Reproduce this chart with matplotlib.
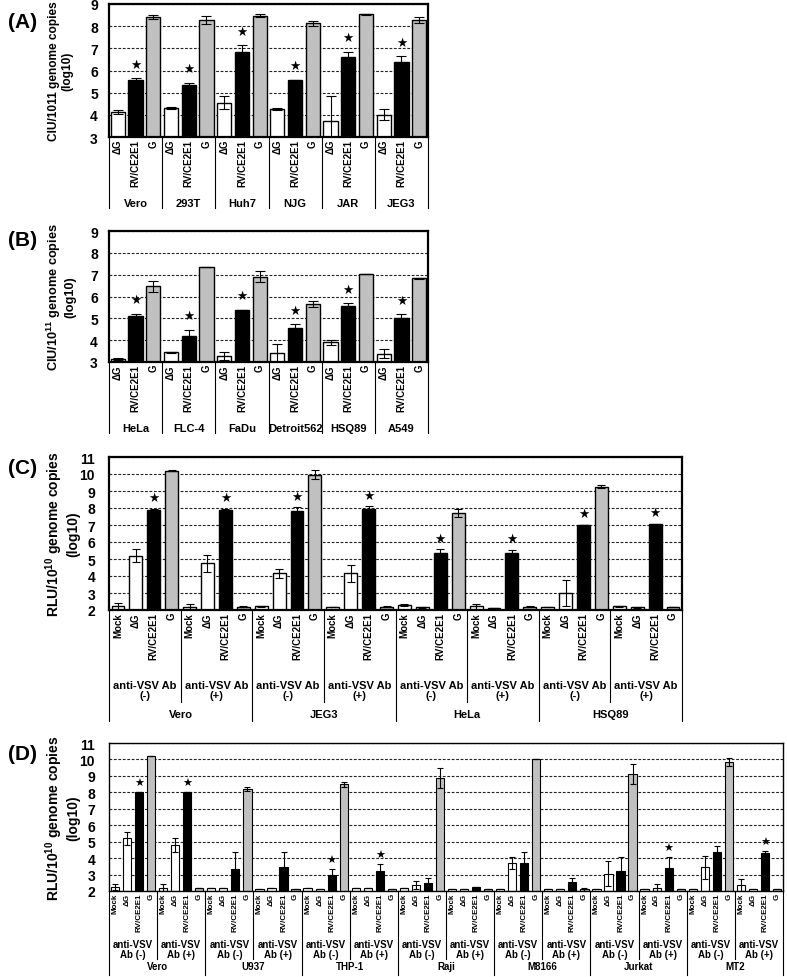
import matplotlib
matplotlib.use("Agg")
import matplotlib.pyplot as plt
import numpy as np
from matplotlib.transforms import blended_transform_factory

plt.rcParams['font.family'] = ['Liberation Sans', 'DejaVu Sans']
plt.rcParams['mathtext.fontset'] = 'custom'
plt.rcParams['mathtext.rm'] = 'Liberation Sans'
plt.rcParams['mathtext.bf'] = 'Liberation Sans:bold'

# ---------------- data ----------------
# Panel A
A_cells = ["Vero", "293T", "Huh7", "NJG", "JAR", "JEG3"]
A_types = ["ΔG", "RV/CE2E1", "G"]
A_dG = [4.12, 4.30, 4.55, 4.27, 3.72, 4.00]
A_dG_err = [0.10, 0.04, 0.30, 0.03, 1.13, 0.25]
A_RV = [5.55, 5.34, 6.84, 5.55, 6.60, 6.40]
A_RV_err = [0.10, 0.10, 0.30, 0.03, 0.25, 0.24]
A_G = [8.42, 8.28, 8.48, 8.13, 8.54, 8.29]
A_G_err = [0.10, 0.20, 0.08, 0.10, 0.03, 0.13]
A_star = [1, 1, 1, 1, 1, 1]

# Panel B
B_cells = ["HeLa", "FLC-4", "FaDu", "Detroit562", "HSQ89", "A549"]
B_dG = [3.15, 3.45, 3.27, 3.40, 3.90, 3.38]
B_dG_err = [0.05, 0.03, 0.20, 0.42, 0.10, 0.20]
B_RV = [5.12, 4.18, 5.36, 4.57, 5.55, 5.00]
B_RV_err = [0.10, 0.30, 0.03, 0.15, 0.15, 0.20]
B_G = [6.46, 7.35, 6.90, 5.65, 7.04, 6.83]
B_G_err = [0.25, 0.02, 0.25, 0.15, 0.01, 0.03]
B_star = [1, 1, 1, 1, 1, 1]

# Panel C (groups: cell x antibody)
C_cells = ["Vero", "JEG3", "HeLa", "HSQ89"]
C_ab = ["anti-VSV Ab\n(-)", "anti-VSV Ab\n(+)"]
C_types = ["Mock", "ΔG", "RV/CE2E1", "G"]
C_mock = [2.24, 2.15, 2.22, 2.20, 2.30, 2.22, 2.18, 2.22]
C_mock_err = [0.20, 0.20, 0.03, 0.00, 0.05, 0.15, 0.02, 0.03]
C_dG = [5.20, 4.75, 4.15, 4.15, 2.15, 2.12, 3.00, 2.15]
C_dG_err = [0.40, 0.50, 0.25, 0.50, 0.02, 0.02, 0.78, 0.02]
C_RV = [7.90, 7.90, 7.80, 7.95, 5.38, 5.33, 7.00, 7.04]
C_RV_err = [0.05, 0.05, 0.25, 0.15, 0.18, 0.22, 0.02, 0.03]
C_G = [10.20, 2.20, 9.97, 2.20, 7.70, 2.20, 9.25, 2.18]
C_G_err = [0.02, 0.03, 0.25, 0.02, 0.25, 0.02, 0.08, 0.02]
C_star = [1, 1, 1, 1, 1, 1, 1, 1]

# Panel D
D_cells = ["Vero", "U937", "THP-1", "Raji", "M8166", "Jurkat", "MT2"]
D_ab = ["anti-VSV\nAb (-)", "anti-VSV\nAb (+)"]
D_types = ["Mock", "ΔG", "RV/CE2E1", "G"]
D_mock = [2.25, 2.20, 2.20, 2.15, 2.20, 2.20, 2.20, 2.15, 2.15, 2.15, 2.15, 2.10, 2.15, 2.35]
D_mock_err = [0.20, 0.20, 0, 0, 0, 0, 0, 0, 0, 0, 0, 0, 0, 0.35]
D_dG = [5.20, 4.80, 2.20, 2.20, 2.15, 2.20, 2.35, 2.15, 3.70, 2.15, 3.05, 2.20, 3.45, 2.12]
D_dG_err = [0.40, 0.45, 0, 0, 0, 0, 0.25, 0, 0.35, 0, 0.75, 0.20, 0.70, 0]
D_RV = [8.00, 8.00, 3.35, 3.45, 3.00, 3.20, 2.47, 2.25, 3.70, 2.55, 3.20, 3.37, 4.40, 4.30]
D_RV_err = [0.0, 0.0, 1.05, 0.95, 0.35, 0.45, 0.30, 0, 0.70, 0.25, 0.85, 0.68, 0.35, 0.15]
D_G = [10.20, 2.20, 8.20, 2.15, 8.50, 2.10, 8.85, 2.15, 10.00, 2.10, 9.10, 2.15, 9.85, 2.10]
D_G_err = [0.0, 0, 0.10, 0, 0.15, 0, 0.60, 0, 0, 0.10, 0.60, 0, 0.25, 0]
D_star = [1, 1, 0, 0, 1, 1, 0, 0, 0, 0, 0, 1, 0, 1]

# ---------------- figure ----------------
W, H = 787, 978
fig = plt.figure(figsize=(W / 100, H / 100), dpi=100)
WHITE, BLACK, GRAY = 'white', 'black', '#c0c0c0'


def make_ax(l, t, r, b):
    return fig.add_axes([l / W, 1 - b / H, (r - l) / W, (b - t) / H])


def interleave(*series):
    return np.column_stack(series).ravel()


def draw_panel(ax, vals, errs, colors, ylo, yhi, width, capsize, star_pos,
               star_off, star_fs, edge_lw, frame_lw, tick_fs, tick_pad):
    x = np.arange(len(vals))
    vals = np.asarray(vals, float)
    errs = np.asarray(errs, float)
    ax.bar(x, vals - ylo, bottom=ylo, width=width, color=colors,
           edgecolor='black', linewidth=edge_lw, zorder=2)
    ax.errorbar(x, vals, yerr=errs, fmt='none', ecolor='black',
                elinewidth=0.8, capsize=capsize, capthick=0.8, zorder=3)
    for i in star_pos:
        ax.annotate('★', xy=(x[i], vals[i] + errs[i]), xytext=(0, star_off),
                    textcoords='offset pixels', ha='center', va='center',
                    fontsize=star_fs, family='DejaVu Sans', zorder=4)
    ax.set_ylim(ylo, yhi)
    ax.set_xlim(-0.5, len(vals) - 0.5)
    ax.set_yticks(range(ylo, yhi + 1))
    ax.yaxis.grid(True, linestyle=(0, (2.5, 1.5)), color='#222222', linewidth=0.8)
    ax.set_axisbelow(True)
    ax.set_xticks([])
    ax.tick_params(axis='y', length=0, pad=tick_pad, labelsize=tick_fs)
    for lab in ax.get_yticklabels():
        lab.set_fontweight('bold')
    for s in ax.spines.values():
        s.set_linewidth(frame_lw)
        s.set_zorder(5)


def below(ax, px):
    return -px / (ax.get_position().height * H)


def vline(ax, x, px, lw=0.8):
    tr = blended_transform_factory(ax.transData, ax.transAxes)
    ax.plot([x, x], [0, below(ax, px)], transform=tr, clip_on=False,
            color='black', lw=lw)


def label(ax, x, px, s, fs, **kw):
    tr = blended_transform_factory(ax.transData, ax.transAxes)
    ax.text(x, below(ax, px), s, transform=tr, fontsize=fs,
            fontweight='bold', clip_on=False, **kw)


def ylab(ax, s, xpx, fs):
    pos = ax.get_position()
    xf = (xpx / W - pos.x0) / pos.width
    ax.text(xf, 0.5, s, rotation=90, ha='center', va='center',
            transform=ax.transAxes, fontsize=fs, fontweight='bold',
            multialignment='center', linespacing=1.15)


# ---- Panels A and B ----
for key, cells, dG, dGe, RV, RVe, G, Ge, stars, box, ytxt, yfs, letter_y, letter in [
    ('A', A_cells, A_dG, A_dG_err, A_RV, A_RV_err, A_G, A_G_err, A_star,
     (109, 5, 428, 138), "CIU/1011 genome copies\n(log10)", 8.6, 22, "(A)"),
    ('B', B_cells, B_dG, B_dG_err, B_RV, B_RV_err, B_G, B_G_err, B_star,
     (109, 232, 428, 363), "CIU/10$^{\\mathbf{11}}$ genome copies\n(log10)", 9.2, 240, "(B)"),
]:
    ax = make_ax(*box)
    vals = interleave(dG, RV, G)
    errs = interleave(dGe, RVe, Ge)
    colors = [WHITE, BLACK, GRAY] * len(cells)
    star_pos = [3 * i + 1 for i, s in enumerate(stars) if s]
    draw_panel(ax, vals, errs, colors, 3, 9, 0.8, 3.5, star_pos, 14, 9,
               1.0, 1.6, 10, 8)
    for i in range(len(vals)):
        label(ax, i, 2, A_types[i % 3], 7, rotation=90, ha='center', va='top')
    for k in range(len(cells) + 1):
        vline(ax, -0.5 + 3 * k, 71)
    for k, c in enumerate(cells):
        label(ax, 3 * k + 1, 66, c, 8, ha='center', va='center')
    ylab(ax, ytxt, 61, yfs)
    fig.text(8 / W, 1 - letter_y / H, letter, fontsize=15, fontweight='bold',
             ha='left', va='center')

# ---- Panels C and D ----
for key, cells, abl, mk, mke, dG, dGe, RV, RVe, G, Ge, stars, box, ycfg in [
    ('C', C_cells, C_ab, C_mock, C_mock_err, C_dG, C_dG_err, C_RV, C_RV_err,
     C_G, C_G_err, C_star, (109, 458, 682, 611),
     dict(width=0.72, cap=3.2, soff=11, sfs=9, edge=1.0, frame=1.6,
          bfs=7, abpx=80, abfs=8, abline=92, cellpx=104, cellfs=8,
          cellline=111, letter_y=469, lfs=10.0)),
    ('D', D_cells, D_ab, D_mock, D_mock_err, D_dG, D_dG_err, D_RV, D_RV_err,
     D_G, D_G_err, D_star, (109, 744, 783, 892),
     dict(width=0.68, cap=2.5, soff=9, sfs=8, edge=0.8, frame=1.0,
          bfs=5.8, abpx=58, abfs=7, abline=68, cellpx=75, cellfs=7,
          cellline=84, letter_y=755, lfs=10.0)),
]:
    ax = make_ax(*box)
    vals = interleave(mk, dG, RV, G)
    errs = interleave(mke, dGe, RVe, Ge)
    colors = [WHITE, WHITE, BLACK, GRAY] * len(mk)
    star_pos = [4 * i + 2 for i, s in enumerate(stars) if s]
    draw_panel(ax, vals, errs, colors, 2, 11, ycfg['width'], ycfg['cap'],
               star_pos, ycfg['soff'], ycfg['sfs'], ycfg['edge'],
               ycfg['frame'], 10, 10)
    for i in range(len(vals)):
        label(ax, i, 2, C_types[i % 4], ycfg['bfs'], rotation=90,
              ha='center', va='top')
    ngroups = len(mk)
    for k in range(ngroups + 1):
        if k % 2 == 0:
            vline(ax, -0.5 + 4 * k, ycfg['cellline'])
        else:
            vline(ax, -0.5 + 4 * k, ycfg['abline'])
    for k in range(ngroups):
        label(ax, 4 * k + 1.5, ycfg['abpx'], abl[k % 2], ycfg['abfs'],
              ha='center', va='center', multialignment='center',
              linespacing=1.05)
    for k, c in enumerate(cells):
        label(ax, 8 * k + 3.5, ycfg['cellpx'], c, ycfg['cellfs'],
              ha='center', va='center')
    ylab(ax, "RLU/10$^{\\mathbf{10}}$ genome copies\n(log10)", 62, ycfg['lfs'])
    fig.text(8 / W, 1 - ycfg['letter_y'] / H, "(%s)" % key, fontsize=15,
             fontweight='bold', ha='left', va='center')

fig.savefig("out.png", dpi=100, facecolor='white')
